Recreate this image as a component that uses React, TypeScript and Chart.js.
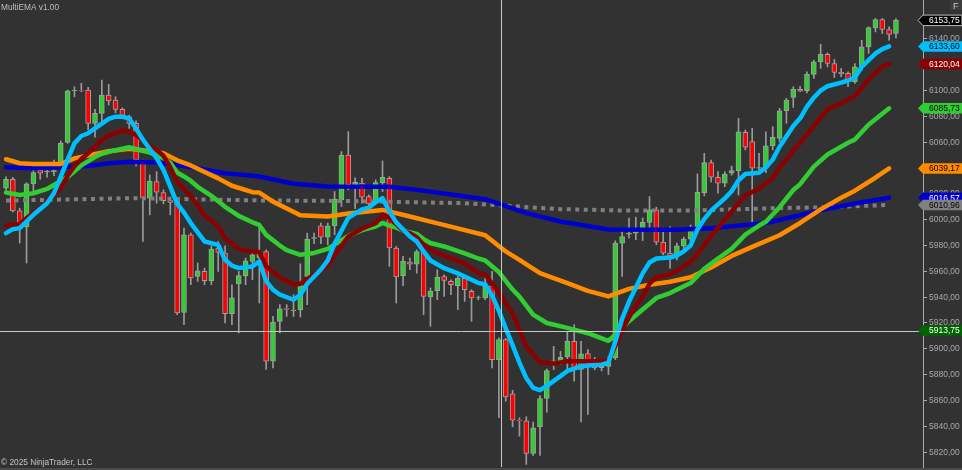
import { useEffect, useRef } from 'react';
import { Chart, registerables } from 'chart.js';

Chart.register(...registerables);

// ---------- DATA ----------
const opens = [
  6023.9, 6030.8, 6006.4, 5994.0, 6027.2, 6038.0, 6036.5, 6036.5, 6043.2, 6059.4,
  6099.3, 6099.5, 6099.8, 6074.1, 6081.8, 6095.9, 6092.1, 6084.9, 6079.2, 6074.1,
  6043.2, 6016.2, 6029.0, 6020.6, 6014.3, 6013.5, 5927.8, 5987.8, 5955.6, 5959.5,
  5952.3, 5977.6, 5973.7, 5926.8, 5949.8, 5956.2, 5967.2, 5970.0, 5974.9, 5890.0,
  5920.9, 5930.8, 5929.2, 5929.9, 5955.6, 5985.0, 5994.8, 5986.1, 5994.8, 6014.9,
  6049.6, 6026.4, 6027.8, 6017.4, 6014.9, 6028.2, 6031.6, 5977.6, 5956.2, 5966.8,
  5965.2, 5974.9, 5939.7, 5944.6, 5955.6, 5951.8, 5948.5, 5954.1, 5944.1, 5939.0,
  5939.0, 5947.9, 5891.3, 5906.8, 5864.8, 5844.4, 5844.0, 5818.7, 5839.3, 5861.2,
  5889.7, 5890.0, 5893.4, 5905.4, 5883.6, 5895.9, 5891.3, 5885.0, 5886.1, 5892.6,
  5981.4, 5988.3, 5989.1, 5993.0, 5997.4, 6007.1, 5982.2, 5973.7, 5971.6, 5979.3,
  5984.5, 5994.2, 6020.5, 6043.7, 6032.4, 6027.8, 6035.5, 6037.5, 6067.1, 6059.9,
  6039.3, 6039.3, 6056.6, 6062.5, 6083.8, 6094.2, 6100.3, 6099.3, 6111.9, 6121.7,
  6127.4, 6120.4, 6113.5, 6112.7, 6106.2, 6118.6, 6133.2, 6147.9, 6154.4, 6146.7,
  6143.6,
];
const highs = [
  6032.6, 6032.4, 6008.4, 6028.2, 6038.0, 6039.3, 6040.1, 6045.7, 6060.4, 6099.8,
  6102.4, 6105.0, 6101.9, 6084.9, 6107.5, 6104.2, 6094.6, 6086.1, 6080.5, 6076.1,
  6045.7, 6034.2, 6036.7, 6022.6, 6014.9, 6014.9, 5993.0, 5989.1, 5966.0, 5962.1,
  5979.3, 5982.7, 5979.3, 5949.2, 5959.5, 5969.8, 5974.9, 5994.2, 5976.2, 5924.7,
  5933.8, 5933.8, 5941.5, 5965.4, 5989.1, 5989.1, 5996.9, 5996.9, 6021.3, 6052.2,
  6067.6, 6031.9, 6031.6, 6018.7, 6030.3, 6045.0, 6032.9, 5978.8, 5971.1, 5969.8,
  5976.2, 5976.2, 5946.7, 5960.8, 5956.9, 5953.1, 5955.6, 5954.4, 5945.4, 5940.5,
  5955.6, 5959.5, 5908.1, 5907.5, 5867.6, 5846.3, 5847.1, 5843.0, 5863.5, 5884.1,
  5901.6, 5897.7, 5913.2, 5918.3, 5905.4, 5899.0, 5893.0, 5890.0, 5893.9, 5983.2,
  5991.7, 6000.8, 6001.5, 6000.8, 6017.4, 6009.2, 5993.0, 5994.2, 5981.4, 5986.1,
  5995.5, 6035.0, 6050.9, 6045.7, 6036.7, 6036.7, 6041.0, 6077.9, 6068.9, 6070.2,
  6050.9, 6067.6, 6071.5, 6085.7, 6093.4, 6102.4, 6102.8, 6113.9, 6123.0, 6135.3,
  6128.6, 6123.5, 6116.6, 6113.9, 6120.4, 6138.4, 6148.7, 6155.2, 6155.2, 6148.7,
  6155.2,
];
const lows = [
  6022.6, 6005.6, 5981.4, 5966.0, 6021.0, 6030.8, 6032.4, 6033.6, 6041.1, 6058.6,
  6094.6, 6098.5, 6068.9, 6063.3, 6075.3, 6088.2, 6082.3, 6078.2, 6070.2, 6041.1,
  5982.7, 6003.3, 6012.3, 6011.8, 6003.3, 5926.1, 5918.3, 5949.2, 5951.8, 5949.2,
  5949.2, 5959.5, 5919.6, 5918.3, 5911.9, 5949.2, 5953.1, 5935.1, 5883.6, 5884.9,
  5911.9, 5924.7, 5924.7, 5924.3, 5933.8, 5980.9, 5980.9, 5980.1, 5987.8, 6009.7,
  6022.6, 6008.0, 6012.3, 6011.0, 6012.3, 6021.3, 5963.4, 5935.1, 5948.5, 5960.8,
  5958.2, 5926.1, 5917.0, 5937.6, 5940.2, 5941.5, 5930.0, 5936.3, 5920.9, 5937.5,
  5937.6, 5884.9, 5846.3, 5859.1, 5839.3, 5832.1, 5810.2, 5817.2, 5817.2, 5850.6,
  5883.6, 5887.4, 5883.6, 5874.6, 5843.0, 5848.8, 5883.5, 5882.5, 5879.7, 5891.3,
  5955.6, 5985.3, 5984.0, 5983.4, 5990.4, 5980.1, 5972.4, 5962.1, 5968.5, 5976.2,
  5981.4, 5989.1, 6018.0, 6028.8, 6020.0, 6025.1, 6034.0, 6018.7, 6053.5, 5996.9,
  6038.0, 6035.9, 6053.5, 6059.9, 6074.1, 6086.4, 6098.5, 6097.7, 6108.8, 6116.6,
  6117.8, 6109.6, 6110.1, 6102.4, 6104.9, 6115.2, 6128.1, 6144.8, 6143.6, 6138.4,
  6140.2,
];
const closes = [
  6030.8, 6006.4, 5996.6, 6027.2, 6035.9, 6035.5, 6037.2, 6037.5, 6058.6, 6099.3,
  6099.6, 6099.2, 6074.1, 6081.8, 6095.9, 6091.5, 6084.9, 6079.7, 6074.1, 6045.7,
  6016.2, 6029.5, 6020.8, 6014.3, 6012.8, 5927.4, 5987.8, 5954.4, 5960.0, 5952.3,
  5976.8, 5974.2, 5926.8, 5939.0, 5956.2, 5967.8, 5972.4, 5974.7, 5890.0, 5920.4,
  5930.5, 5930.2, 5929.6, 5948.5, 5984.5, 5985.6, 5986.1, 5994.8, 6015.4, 6049.6,
  6026.4, 6028.5, 6017.0, 6011.8, 6028.2, 6032.4, 5977.6, 5955.2, 5967.5, 5965.2,
  5974.9, 5940.2, 5944.1, 5955.2, 5952.6, 5949.2, 5954.1, 5945.4, 5939.0, 5939.3,
  5947.9, 5891.3, 5906.8, 5862.5, 5844.4, 5844.1, 5818.7, 5838.6, 5861.2, 5882.8,
  5890.3, 5893.1, 5905.4, 5883.6, 5895.7, 5886.1, 5884.9, 5888.7, 5891.3, 5981.4,
  5986.5, 5988.9, 5991.2, 5997.4, 6007.1, 5982.2, 5973.7, 5971.6, 5979.3, 5984.5,
  5992.2, 6020.8, 6043.7, 6032.4, 6027.8, 6034.9, 6037.5, 6067.6, 6055.6, 6039.3,
  6039.8, 6056.6, 6063.3, 6083.8, 6092.1, 6100.3, 6099.0, 6111.9, 6121.7, 6127.4,
  6120.4, 6113.5, 6112.5, 6107.5, 6117.8, 6133.2, 6148.2, 6154.4, 6146.7, 6142.8,
  6153.75,
];

// EMA plots, read at bar indices: [bar, value]
const emaCyan: [number, number][] = [
  [0, 5989.1], [1, 5992.2], [2, 5993], [4, 6003.3], [6, 6012.3], [7, 6020], [8, 6032.9], [9, 6046],
  [10, 6058.6], [11, 6064.3], [12, 6066.4], [13, 6070.2], [15, 6077.5], [16, 6079.2], [17, 6079.2],
  [18, 6077.9], [19, 6070], [20, 6061.5], [22, 6047.1], [23, 6038], [24, 6025.1], [25, 6012], [26, 6005],
  [27, 5996.9], [29, 5982.7], [31, 5980], [32, 5968.5], [33, 5964], [34, 5962.1], [36, 5963.4],
  [37, 5967.2], [38, 5952], [39, 5945.4], [40, 5941.5], [42, 5937.6], [43, 5941.5], [44, 5950],
  [46, 5961], [47, 5968], [48, 5981], [49, 5991], [50, 6001], [52, 6007.5], [53, 6008.9], [54, 6013],
  [55, 6016.2], [56, 6006], [57, 5997.5], [59, 5986.5], [60, 5982.7], [61, 5975], [62, 5968],
  [64, 5962], [66, 5958], [68, 5953], [69, 5950.5], [70, 5949.5], [71, 5941], [72, 5929], [73, 5915.5],
  [74, 5902.5], [75, 5889], [76, 5877], [77, 5869.5], [78, 5867.6], [79, 5871], [81, 5878.5],
  [82, 5882.5], [84, 5886], [85, 5886.7], [87, 5887.4], [88, 5889], [89, 5905], [90, 5923], [91, 5936],
  [92, 5947], [93, 5958], [94, 5966.4], [95, 5969.5], [97, 5970.3], [98, 5971.8], [99, 5975],
  [100, 5979.5], [101, 5992], [102, 6000], [103, 6006.5], [105, 6016], [106, 6021.5], [107, 6030],
  [108, 6034.9], [110, 6035.9], [111, 6040], [112, 6046], [113, 6056], [115, 6072], [116, 6078],
  [117, 6087], [118, 6094], [119, 6099.5], [120, 6102.8], [122, 6105.6], [123, 6107.2], [124, 6109.5],
  [125, 6117.8], [126, 6123], [127, 6128.1], [128, 6131.5], [129, 6133.6],
];
const emaDarkRed: [number, number][] = [
  [0, 5995], [2, 5996.3], [3, 6000.7], [4, 6005], [5, 6008], [6, 6013.5], [8, 6024], [9, 6033.5],
  [10, 6041], [11, 6046.5], [12, 6051], [14, 6061], [15, 6064.5], [17, 6068.5], [18, 6067.5],
  [19, 6065.2], [20, 6061], [21, 6056.5], [22, 6053.5], [23, 6049], [24, 6040], [25, 6029],
  [26, 6023], [27, 6018], [28, 6010.5], [29, 6002.5], [30, 5999], [31, 5994.2], [32, 5985],
  [34, 5977], [35, 5975.5], [37, 5974.5], [38, 5963.5], [39, 5959], [40, 5955], [42, 5949.2],
  [43, 5950], [45, 5957], [47, 5964], [48, 5972], [50, 5986.5], [52, 5992.5], [54, 5996.8],
  [55, 6003.3], [56, 6001], [58, 5991], [59, 5989], [60, 5986], [61, 5980.1], [63, 5973.5],
  [65, 5969.8], [67, 5965.5], [69, 5958.2], [70, 5957], [71, 5950], [72, 5943], [73, 5935],
  [74, 5927], [76, 5901.6], [78, 5889.2], [80, 5888.2], [82, 5890], [84, 5890], [86, 5890],
  [88, 5890], [89, 5902], [90, 5914], [91, 5924], [92, 5933], [93, 5940], [94, 5950], [95, 5955],
  [96, 5956], [97, 5957.5], [98, 5960], [100, 5967], [101, 5973], [103, 5987], [106, 6006],
  [108, 6018.5], [110, 6023.5], [112, 6032], [113, 6040], [114, 6046], [115, 6053], [116, 6059],
  [118, 6072], [120, 6085], [122, 6089.7], [124, 6095], [126, 6108], [128, 6118], [129, 6120.04],
];
const emaGreen: [number, number][] = [
  [0, 6020.5], [2, 6018.7], [4, 6020], [6, 6023.3], [8, 6029.5], [9, 6032.5], [11, 6041.5],
  [13, 6048], [14, 6050.5], [16, 6053.3], [18, 6055.6], [20, 6052.8], [21, 6051.4], [23, 6047.1],
  [24, 6043.5], [25, 6036], [26, 6033], [27, 6029.5], [28, 6025], [30, 6018], [32, 6009.5],
  [34, 6002.5], [36, 5997.5], [37, 5995.5], [38, 5987.8], [40, 5979.5], [41, 5976], [43, 5972.4],
  [45, 5973.8], [47, 5977], [50, 5987], [52, 5991.5], [54, 5994.2], [55, 5997], [56, 5995],
  [57, 5993.5], [58, 5991], [60, 5988.6], [61, 5984.5], [62, 5981.5], [64, 5978.8], [67, 5973.4],
  [69, 5969.5], [70, 5968], [72, 5959], [74, 5945.5], [75, 5940], [77, 5926.1], [79, 5919.6],
  [82, 5915.8], [85, 5911.7], [88, 5905.8], [89, 5910.5], [91, 5921], [93, 5930], [95, 5939],
  [97, 5942.8], [100, 5950.5], [102, 5961.5], [104, 5969.5], [106, 5977], [108, 5988], [110, 5995],
  [111, 5998], [113, 6009.2], [115, 6022.5], [116, 6027], [118, 6040.6], [120, 6050], [123, 6059],
  [124, 6061.5], [126, 6073], [128, 6081.5], [129, 6085.73],
];
const emaOrange: [number, number][] = [
  [0, 6046.3], [2, 6043.2], [4, 6042.7], [8, 6042.7], [10, 6047], [12, 6049.2], [15, 6052.5],
  [18, 6054.4], [20, 6053.3], [23, 6050.9], [25, 6045.5], [27, 6041.5], [31, 6031.5], [33, 6025.8],
  [36, 6020.8], [37, 6020.5], [38, 6017], [39, 6013.5], [43, 6003], [47, 6002], [50, 6004.4],
  [55, 6007.1], [59, 6002], [62, 5998], [66, 5992.8], [70, 5987.5], [73, 5975], [75, 5968.5],
  [78, 5958.2], [82, 5950.5], [85, 5944.5], [88, 5940.2], [91, 5946], [94, 5949.2], [97, 5951.5],
  [100, 5955], [103, 5962.5], [106, 5971.5], [109, 5978.5], [113, 5987.5], [116, 5997],
  [119, 6007.5], [122, 6016.5], [124, 6022], [127, 6032], [129, 6039.17],
];
const emaBlue: [number, number][] = [
  [0, 6040.1], [4, 6039.3], [8, 6040.1], [12, 6041.1], [15, 6043.2], [18, 6044.4], [22, 6043.7],
  [25, 6041.9], [28, 6039.3], [32, 6035.5], [36, 6033.6], [37, 6032.9], [42, 6027.3], [47, 6025.2],
  [56, 6025.1], [60, 6022.6], [64, 6019.8], [70, 6015.4], [76, 6004.6], [81, 5998.1], [88, 5992],
  [95, 5991.7], [98, 5991.7], [103, 5993], [111, 5997], [115, 6001.8], [119, 6006.8], [124, 6012],
  [129, 6016.57],
];
const emaGray: [number, number][] = [
  [0, 6014.3], [19, 6016.2], [36, 6014.5], [50, 6014], [67, 6012.3], [81, 6007.7], [90, 6006.6],
  [100, 6006.6], [113, 6008.5], [120, 6009.2], [129, 6010.96],
];

const priceTicks = [6140, 6120, 6100, 6080, 6060, 6040, 6020, 6000, 5980, 5960, 5940, 5920, 5900, 5880, 5860, 5840, 5820];
const crosshairPrice = 5913.75;
const crosshairBar = 72.3;

const titleText = 'MultiEMA v1.00';
const copyrightText = '© 2025 NinjaTrader, LLC';

// ---------- STYLE ----------
const BG = '#323232';
const FONT = "'Liberation Sans', Arial, Helvetica, sans-serif";
const UP = '#32CD32';
const DOWN = '#FF0000';
const CYAN = '#00BFFF';
const DARKRED = '#8B0000';
const GREEN = '#32CD32';
const ORANGE = '#FF8C00';
const BLUE = '#0000CD';
const GRAY = '#808080';

const fmt = (v: number) => v.toFixed(2).replace('.', ',');

function drawTag(ctx: CanvasRenderingContext2D, y: number, text: string, fill: string, color: string, border?: string) {
  const tip = 918, left = 923, right = 962, h = 10.5;
  ctx.beginPath();
  ctx.moveTo(tip, y);
  ctx.lineTo(left, y - h / 2);
  ctx.lineTo(right, y - h / 2);
  ctx.lineTo(right, y + h / 2);
  ctx.lineTo(left, y + h / 2);
  ctx.closePath();
  ctx.fillStyle = fill;
  ctx.fill();
  if (border) {
    ctx.strokeStyle = border;
    ctx.lineWidth = 1;
    ctx.stroke();
  }
  ctx.fillStyle = color;
  ctx.font = `8.5px ${FONT}`;
  ctx.textAlign = 'left';
  ctx.textBaseline = 'middle';
  ctx.fillText(text, 929, y + 0.5);
}

const overlayPlugin = {
  id: 'ntOverlay',
  beforeDraw(chart: any) {
    const ctx = chart.ctx as CanvasRenderingContext2D;
    ctx.save();
    ctx.fillStyle = BG;
    ctx.fillRect(0, 0, chart.width, chart.height);
    ctx.restore();
  },
  afterDatasetsDraw(chart: any) {
    const ctx = chart.ctx as CanvasRenderingContext2D;
    const xs = chart.scales.x;
    const ys = chart.scales.y;
    const a = chart.chartArea;
    ctx.save();
    ctx.strokeStyle = '#c8c8c8';
    ctx.lineWidth = 1;
    const cx = Math.round(xs.getPixelForValue(crosshairBar)) + 0.5;
    const cy = Math.round(ys.getPixelForValue(crosshairPrice)) + 0.5;
    ctx.beginPath();
    ctx.moveTo(cx, 0);
    ctx.lineTo(cx, a.bottom);
    ctx.moveTo(0, cy);
    ctx.lineTo(a.right, cy);
    ctx.stroke();
    ctx.restore();
  },
  afterDraw(chart: any) {
    const ctx = chart.ctx as CanvasRenderingContext2D;
    const ys = chart.scales.y;
    const a = chart.chartArea;
    ctx.save();
    // bottom strip
    ctx.fillStyle = '#4a4a4a';
    ctx.fillRect(0, a.bottom + 1, chart.width, chart.height - a.bottom - 1);
    // axis line
    ctx.strokeStyle = '#a8a8a8';
    ctx.lineWidth = 1;
    ctx.beginPath();
    ctx.moveTo(a.right + 0.5, 0);
    ctx.lineTo(a.right + 0.5, a.bottom + 1);
    ctx.stroke();
    // ticks + labels
    ctx.font = `8.5px ${FONT}`;
    ctx.textAlign = 'left';
    ctx.textBaseline = 'middle';
    for (const t of priceTicks) {
      const py = Math.round(ys.getPixelForValue(t)) + 0.5;
      ctx.strokeStyle = '#a8a8a8';
      ctx.beginPath();
      ctx.moveTo(a.right, py);
      ctx.lineTo(a.right + 4, py);
      ctx.stroke();
      ctx.fillStyle = '#a8a8a8';
      ctx.fillText(fmt(t), 929, py);
    }
    // tags
    const last = (arr: [number, number][]) => arr[arr.length - 1][1];
    drawTag(ctx, ys.getPixelForValue(crosshairPrice), fmt(crosshairPrice), '#006400', '#ffffff');
    drawTag(ctx, ys.getPixelForValue(last(emaOrange)), fmt(last(emaOrange)), ORANGE, '#000000');
    drawTag(ctx, ys.getPixelForValue(last(emaGreen)), fmt(last(emaGreen)), GREEN, '#000000');
    drawTag(ctx, ys.getPixelForValue(last(emaDarkRed)), fmt(last(emaDarkRed)), DARKRED, '#ffffff');
    drawTag(ctx, ys.getPixelForValue(last(emaCyan)), fmt(last(emaCyan)), CYAN, '#000000');
    drawTag(ctx, ys.getPixelForValue(last(emaBlue)), fmt(last(emaBlue)), BLUE, '#ffffff');
    drawTag(ctx, ys.getPixelForValue(last(emaGray)), fmt(last(emaGray)), GRAY, '#000000');
    const lastClose = closes[closes.length - 1];
    drawTag(ctx, ys.getPixelForValue(lastClose), fmt(lastClose), '#000000', '#ffffff', '#bdbdbd');
    // F box
    ctx.fillStyle = '#3c3c3c';
    ctx.fillRect(950, 0, 12, 10);
    ctx.fillStyle = '#c8c8c8';
    ctx.font = `9px ${FONT}`;
    ctx.textAlign = 'left';
    ctx.textBaseline = 'alphabetic';
    ctx.fillText('F', 953, 8.5);
    // texts
    ctx.fillStyle = '#bdbdbd';
    ctx.font = `8.3px ${FONT}`;
    ctx.fillText(titleText, 1, 10);
    ctx.fillStyle = '#c4c4c4';
    ctx.fillText(copyrightText, 1, 464.5);
    ctx.restore();
  },
};

const lineDs = (data: [number, number][], color: string, order: number, dotted = false) => ({
  type: 'line' as const,
  data: data.map(([b, v]) => ({ x: b, y: v })),
  borderColor: color,
  backgroundColor: color,
  borderWidth: dotted ? 4 : 4.5,
  borderDash: dotted ? [4, 4.5] : [],
  borderCapStyle: dotted ? 'butt' : 'round',
  borderJoinStyle: 'round',
  pointRadius: 0,
  tension: 0,
  fill: false,
  order,
});

export default function App() {
  const ref = useRef<HTMLCanvasElement | null>(null);
  useEffect(() => {
    document.body.style.margin = '0';
    const canvas = ref.current;
    if (!canvas) return;
    const bodyColors = opens.map((o, i) => (closes[i] >= o ? UP : DOWN));
    const chart = new Chart(canvas, {
      type: 'bar',
      data: {
        datasets: [
          lineDs(emaCyan, CYAN, 0),
          lineDs(emaDarkRed, DARKRED, 1),
          lineDs(emaGreen, GREEN, 2),
          lineDs(emaOrange, ORANGE, 3),
          lineDs(emaBlue, BLUE, 4),
          lineDs(emaGray, GRAY, 5, true),
          {
            type: 'bar',
            data: opens.map((o, i) => ({ x: i, y: [o, closes[i]] })),
            backgroundColor: bodyColors,
            borderColor: '#a0a0a0',
            borderWidth: 1,
            borderSkipped: false,
            barThickness: 5,
            grouped: false,
            order: 10,
          },
          {
            type: 'bar',
            data: lows.map((l, i) => ({ x: i, y: [l, highs[i]] })),
            backgroundColor: '#9a9a9a',
            borderWidth: 0,
            barThickness: 1,
            grouped: false,
            order: 11,
          },
        ] as any,
      },
      options: {
        animation: false,
        responsive: false,
        devicePixelRatio: 1,
        events: [],
        layout: { padding: { left: 0, right: 39, top: 0, bottom: 3 } },
        plugins: { legend: { display: false }, tooltip: { enabled: false }, title: { display: false } },
        scales: {
          x: { type: 'linear', min: -0.876, max: 133.95, offset: false, display: false },
          y: { type: 'linear', min: 5808.2, max: 6169.5, display: false },
        },
      } as any,
      plugins: [overlayPlugin],
    });
    return () => chart.destroy();
  }, []);
  return (
    <div style={{ position: 'absolute', left: 0, top: 0, width: 962, height: 470, background: BG }}>
      <canvas ref={ref} width={962} height={470} style={{ display: 'block', width: 962, height: 470 }} />
    </div>
  );
}
